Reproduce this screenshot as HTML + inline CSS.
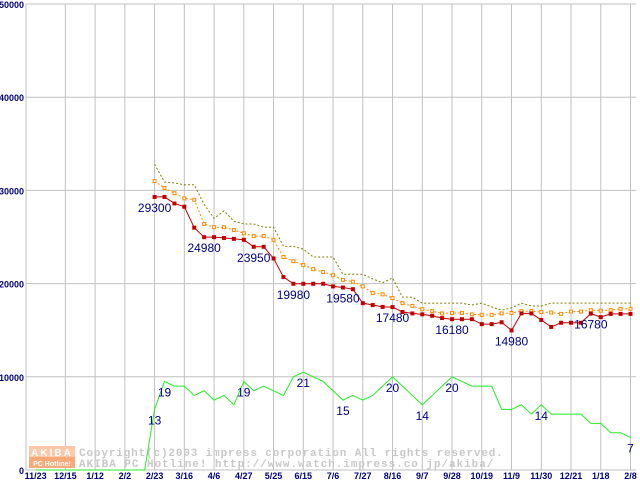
<!DOCTYPE html>
<html><head><meta charset="utf-8"><style>
html,body{margin:0;padding:0;background:#fff;}
svg{display:block;}
text{font-family:"Liberation Sans",sans-serif;}
</style></head><body>
<svg id="chart" width="640" height="480" viewBox="0 0 640 480" xmlns="http://www.w3.org/2000/svg">
<g id="grid"></g>
<g id="axes"></g>
<g id="wm">
  <rect x="29" y="446" width="46" height="11" fill="#ffc8a8"/>
  <rect x="29" y="457" width="46" height="11" fill="#f9a878"/>
  <text x="52" y="456" font-size="10" font-weight="bold" fill="#fff" text-anchor="middle" letter-spacing="2">AKIBA</text>
  <text x="52" y="466" font-size="7" font-weight="bold" fill="#fff" text-anchor="middle">PC Hotline!</text>
  <text x="79" y="456" font-size="11" font-weight="bold" fill="#c8c8c8" style="font-family:'Liberation Mono',monospace" letter-spacing="0.85">Copyright(c)2003 impress corporation All rights reserved.</text>
  <text x="79" y="467" font-size="11" font-weight="bold" fill="#c8c8c8" style="font-family:'Liberation Mono',monospace" letter-spacing="0.95">AKIBA PC Hotline!  http://www.watch.impress.co.jp/akiba/</text>
</g>
<g id="series"></g>
<g id="labels"></g>
</svg>
<script>
const xTickLabels = ["11/23","12/15","1/12","2/2","2/23","3/16","4/6","4/27","5/25","6/15","7/6","7/27","8/16","9/7","9/28","10/19","11/9","11/30","12/21","1/18","2/8"];
const yTicks = [0,10000,20000,30000,40000,50000];
const minPrice = [29300,29300,28600,28250,26000,24980,24980,24900,24800,24700,23950,23950,22700,20700,19980,19980,19980,19980,19700,19580,19400,17900,17700,17500,17480,16950,16800,16700,16550,16300,16180,16180,16180,15650,15650,15850,14980,16800,16800,16100,15350,15800,15800,15800,16780,16400,16750,16750,16750];
const avgPrice = [31000,30250,29700,29150,29000,26400,26050,26050,25750,25400,25100,25100,24700,22850,22400,22000,21550,21250,20900,20400,20200,19700,19000,18850,18450,17900,17600,17250,17050,16800,16850,16850,16700,16650,16650,16800,16850,17050,17050,16950,16900,16750,17000,17000,17150,17100,17150,17300,17300];
const maxPrice = [32800,30900,30800,30600,30600,28500,27000,27800,26700,26400,26400,26050,26050,24000,24000,23700,22850,22850,22850,21000,21000,21000,20500,20100,20600,18550,18550,17900,17900,17900,17900,17900,17700,17900,17500,17150,17400,17900,17600,17600,17900,17900,17900,17900,17900,17900,17900,17900,17900];
const shopCount = [0,0,0,0,0,0,0,0,0,0,0,0,13,19,18,18,16,17,15,16,14,19,17,18,17,16,20,21,20,19,17,15,16,15,16,18,20,18,16,14,16,18,20,19,18,18,18,13,13,14,12,14,12,12,12,12,10,10,8,8,7];
const priceLabelIdx = [0,5,10,14,19,24,30,36,44];
const countLabelIdx = [12,13,21,27,31,36,39,42,51,60];

const NS="http://www.w3.org/2000/svg";
const X0=35.6, WEEK=9.915, Y0=470, YTOP=4, YMAX=50000;
const xw = i => X0 + i*WEEK;
const xs = i => xw(i+12);
const y = v => Y0 - v/YMAX*(Y0-YTOP);
const yc = c => y(c*500);
function mk(tag, attrs, parent){const e=document.createElementNS(NS,tag);for(const k in attrs)e.setAttribute(k,attrs[k]);parent.appendChild(e);return e;}
const grid=document.getElementById('grid'), axes=document.getElementById('axes'), ser=document.getElementById('series'), lab=document.getElementById('labels');

yTicks.forEach(v=>{
  const l=mk('line',{x1:26,x2:636,y1:y(v),y2:y(v),stroke:'#c0c0c0','stroke-width':1},grid);
  
  
  const t=mk('text',{x:24,y:y(v)+4,'font-size':9,'font-weight':'bold',fill:'#000080','text-anchor':'end'},axes);
  t.textContent=v;
  
  
});
const ax=mk('line',{x1:26,x2:26,y1:YTOP,y2:Y0,stroke:'#c0c0c0','stroke-width':1},grid);


xTickLabels.forEach((s,k)=>{
  const x=xw(k*3);
  if(k>0){
    const l=mk('line',{x1:x,x2:x,y1:YTOP,y2:Y0,stroke:'#c0c0c0','stroke-width':1},grid);
    
    
  }
  const t=mk('text',{x:x,y:479,'font-size':9,'font-weight':'bold',fill:'#000080','text-anchor':'middle'},axes);
  t.textContent=s;
  
  
});

function line(vals, xf, yf, color, dash, name){
  const p=mk('polyline',{points:vals.map((v,i)=>xf(i)+','+yf(v)).join(' '),fill:'none',stroke:color,'stroke-width':1},ser);
  if(dash)p.setAttribute('stroke-dasharray',dash);
  
  
}
line(shopCount, xw, yc, '#22ee22', null, 'shop-count-line');
line(maxPrice, xs, y, '#808000', '2,2', 'max-price-line');
line(avgPrice, xs, y, '#ff8800', '2,2', 'avg-price-line');
avgPrice.forEach((v,i)=>{
  const r=mk('rect',{x:xs(i)-1.5,y:y(v)-1.5,width:3,height:3,fill:'#fff',stroke:'#ff8800','stroke-width':1},ser);
  
  
});
line(minPrice, xs, y, '#c00000', null, 'min-price-line');
minPrice.forEach((v,i)=>{
  const r=mk('rect',{x:xs(i)-2,y:y(v)-2,width:4,height:4,fill:'#c00000'},ser);
  
  
});
priceLabelIdx.forEach(i=>{
  const t=mk('text',{x:xs(i),y:y(minPrice[i])+15,'font-size':12,fill:'#000080','text-anchor':'middle'},lab);
  t.textContent=minPrice[i];
  
  
});
countLabelIdx.forEach(i=>{
  const t=mk('text',{x:xw(i),y:yc(shopCount[i])+15,'font-size':12,fill:'#000080','text-anchor':'middle'},lab);
  t.textContent=shopCount[i];
  
  
});
</script>
</body></html>
